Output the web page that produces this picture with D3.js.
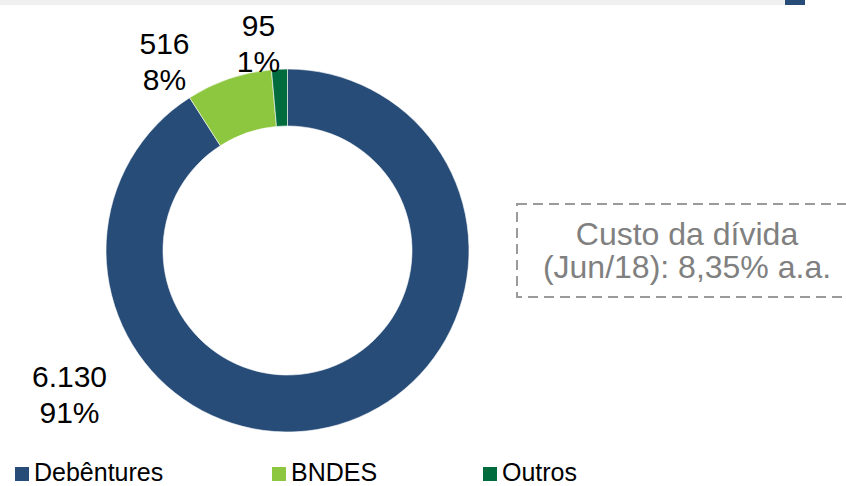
<!DOCTYPE html>
<html>
<head>
<meta charset="utf-8">
<script src="https://cdn.jsdelivr.net/npm/d3@7"></script>
<style>
  body { margin: 0; background: #fff; }
  svg { display: block; font-family: "Liberation Sans", Arial, sans-serif; }
</style>
</head>
<body>
<div id="chart-area"></div>
<script>
// data
var categories = ["Debêntures", "BNDES", "Outros"];
var values = [6130, 516, 95];
var valueLabels = ["6.130", "516", "95"];
var pctLabels = ["91%", "8%", "1%"];
var colors = ["#274c77", "#8dc63f", "#006b3c"];
var noteLines = ["Custo da dívida", "(Jun/18): 8,35% a.a."];

var width = 846, height = 486;
var cx = 287.5, cy = 250.5;
var outerR = 181.5, innerR = 124.5;

// where the data labels sit, relative to the donut centre
var labelOffset = [
    { x: -218, y: 136 },
    { x: -123, y: -197 },
    { x: -29, y: -215 }
];
var legendX = [15, 272, 483];

var svg = d3.select("#chart-area")
    .append("svg")
    .attr("width", width)
    .attr("height", height);

// header strip
svg.append("rect")
    .attr("x", 0).attr("y", 0)
    .attr("width", 785).attr("height", 5)
    .attr("fill", "#f0f0f0");
svg.append("rect")
    .attr("x", 785).attr("y", 0)
    .attr("width", 20).attr("height", 5)
    .attr("fill", "#274c77");

var pie = d3.pie()
    .sort(null)
    .value(function(d) { return d; });

var arc = d3.arc()
    .innerRadius(innerR)
    .outerRadius(outerR);

var g = svg.append("g")
    .attr("transform", "translate(" + cx + "," + cy + ")");

g.selectAll("path")
    .data(pie(values))
    .enter()
    .append("path")
    .attr("d", arc)
    .attr("fill", function(d, i) { return colors[i]; })
    .attr("stroke", "#fff")
    .attr("stroke-width", 0.6);

// data labels
var labels = g.selectAll(".lbl")
    .data(values)
    .enter()
    .append("text")
    .attr("class", "lbl")
    .attr("text-anchor", "middle")
    .attr("font-size", "30px")
    .attr("fill", "#000");
labels.append("tspan")
    .attr("x", function(d, i) { return labelOffset[i].x; })
    .attr("y", function(d, i) { return labelOffset[i].y; })
    .text(function(d, i) { return valueLabels[i]; });
labels.append("tspan")
    .attr("x", function(d, i) { return labelOffset[i].x; })
    .attr("y", function(d, i) { return labelOffset[i].y + 36; })
    .text(function(d, i) { return pctLabels[i]; });

// cost of debt note
svg.append("rect")
    .attr("x", 517).attr("y", 204)
    .attr("width", 340).attr("height", 93)
    .attr("fill", "none")
    .attr("stroke", "#9a9a9a")
    .attr("stroke-width", 2)
    .attr("stroke-dasharray", "10,6");
svg.selectAll(".note")
    .data(noteLines)
    .enter()
    .append("text")
    .attr("class", "note")
    .attr("x", 687)
    .attr("y", function(d, i) { return 245 + i * 33; })
    .attr("text-anchor", "middle")
    .attr("font-size", "32px")
    .attr("fill", "#808080")
    .text(function(d) { return d; });

// legend
var legend = svg.selectAll(".legend")
    .data(categories)
    .enter()
    .append("g")
    .attr("class", "legend")
    .attr("transform", function(d, i) { return "translate(" + legendX[i] + ",467)"; });
legend.append("rect")
    .attr("width", 14).attr("height", 14)
    .attr("fill", function(d, i) { return colors[i]; });
legend.append("text")
    .attr("x", 19)
    .attr("y", 14)
    .attr("font-size", "25px")
    .attr("fill", "#000")
    .text(function(d) { return d; });
</script>
</body>
</html>
